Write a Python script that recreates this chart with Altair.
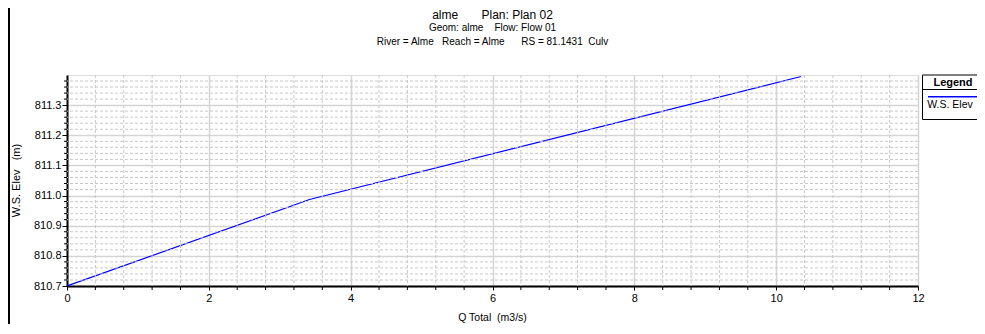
import altair as alt
import pandas as pd
import numpy as np

# ---- data ----
q_total = [0.0, 3.42, 10.35]
ws_elev = [810.70, 810.987, 811.395]

x_major = [0, 2, 4, 6, 8, 10, 12]
y_major = [810.7, 810.8, 810.9, 811.0, 811.1, 811.2, 811.3]

title_lines = [
    "alme\u00a0\u00a0\u00a0\u00a0\u00a0\u00a0\u00a0Plan: Plan 02",
    "Geom: alme\u00a0\u00a0\u00a0\u00a0Flow: Flow 01",
    "River = Alme\u00a0\u00a0\u00a0Reach = Alme\u00a0\u00a0\u00a0\u00a0\u00a0\u00a0RS = 81.1431\u00a0\u00a0Culv",
]
x_title = "Q Total\u00a0\u00a0(m3/s)"
y_title = "W.S. Elev\u00a0\u00a0\u00a0(m)"
legend_title = "Legend"
legend_label = "W.S. Elev"

W, H = 851, 211
FONT = "Liberation Sans"
XD = [0, 12]
YD = [810.7, 811.4]

x_minor = [round(v, 2) for v in np.arange(0, 12.001, 0.4) if abs(v / 2 - round(v / 2)) > 1e-6]
y_minor = [round(v, 3) for v in np.arange(810.7, 811.4001, 0.02)
           if abs(v * 10 - round(v * 10)) > 1e-6]

xs = alt.Scale(domain=XD, nice=False, zero=False)
ys = alt.Scale(domain=YD, nice=False, zero=False)

x_axis = alt.Axis(values=x_major, format="d", grid=True, gridColor="#d4d4d4", gridWidth=1.5,
                  tickColor="black", tickSize=4, domainColor="black", domainWidth=2,
                  labelFont=FONT, labelFontSize=11, labelColor="black", labelPadding=2,
                  labelFlush=False, title=None)
y_axis = alt.Axis(values=y_major, format=".1f", grid=True, gridColor="#d4d4d4", gridWidth=1.5,
                  tickColor="black", tickSize=5, domainColor="black", domainWidth=2,
                  labelFont=FONT, labelFontSize=11, labelColor="black", labelPadding=1,
                  labelFlush=False, title=None)

df = pd.DataFrame({"q": q_total, "ws": ws_elev})
dxm = pd.DataFrame({"x": x_minor})
dym = pd.DataFrame({"y": y_minor})

line = alt.Chart(df).mark_line(color="#0000ff", strokeWidth=1.2, clip=True).encode(
    x=alt.X("q:Q", scale=xs, axis=x_axis),
    y=alt.Y("ws:Q", scale=ys, axis=y_axis),
)

grid_minor_v = alt.Chart(dxm).mark_rule(color="#c8c8c8", strokeWidth=1, strokeDash=[3, 2]).encode(
    x=alt.X("x:Q", scale=xs, axis=x_axis))
grid_minor_h = alt.Chart(dym).mark_rule(color="#c8c8c8", strokeWidth=1, strokeDash=[3, 2]).encode(
    y=alt.Y("y:Q", scale=ys, axis=y_axis))

tick_minor_x = alt.Chart(dxm).mark_rule(color="black", strokeWidth=1, clip=False).encode(
    x=alt.X("x:Q", scale=xs, axis=x_axis), y=alt.value(H), y2=alt.value(H + 4))
tick_minor_y = alt.Chart(dym).mark_rule(color="black", strokeWidth=1, clip=False).encode(
    y=alt.Y("y:Q", scale=ys, axis=y_axis), x=alt.value(-3), x2=alt.value(0))


def txt(s, x, y, size, bold=False, angle=0):
    return alt.Chart(pd.DataFrame({"t": [s]})).mark_text(
        font=FONT, fontSize=size, fontWeight="bold" if bold else "normal", color="black",
        align="center", baseline="middle", angle=angle, clip=False
    ).encode(text="t:N", x=alt.value(x), y=alt.value(y))


titles = [
    txt(title_lines[0], W / 2, -60, 12),
    txt(title_lines[1], W / 2, -47, 10),
    txt(title_lines[2], W / 2, -33, 10),
    txt(x_title, W / 2, 243, 10.5),
    txt(y_title, -50, H / 2, 11, angle=270),
]

one = pd.DataFrame({"a": [0]})
legend_box = alt.Chart(one).mark_rect(
    fill="white", stroke="black", strokeWidth=1, clip=False).encode(
    x=alt.value(855.5), x2=alt.value(915), y=alt.value(0), y2=alt.value(44.5))
legend_div = alt.Chart(one).mark_rule(color="black", strokeWidth=1, clip=False).encode(
    x=alt.value(855.5), x2=alt.value(915), y=alt.value(14.5))
legend_line = alt.Chart(one).mark_rule(color="#0000ff", strokeWidth=1.5, clip=False).encode(
    x=alt.value(861), x2=alt.value(910), y=alt.value(21.7))
legend_texts = [
    txt(legend_title, 886, 8, 11, bold=True),
    txt(legend_label, 883, 30, 10.5),
]

frame = alt.Chart(one).mark_rule(color="black", strokeWidth=2, clip=False).encode(
    x=alt.value(-58), y=alt.value(-67), y2=alt.value(249))

chart = alt.layer(
    line, grid_minor_v, grid_minor_h, tick_minor_x, tick_minor_y,
    legend_box, legend_div, legend_line, *legend_texts, *titles, frame
).properties(
    width=W, height=H,
    autosize=alt.AutoSizeParams(type="none"),
    padding={"left": 59, "top": 67, "right": 59, "bottom": 38},
).configure_view(stroke="black", strokeWidth=2).configure(background="white")

chart.save("out.html", embed_options={"renderer": "svg", "actions": False})
